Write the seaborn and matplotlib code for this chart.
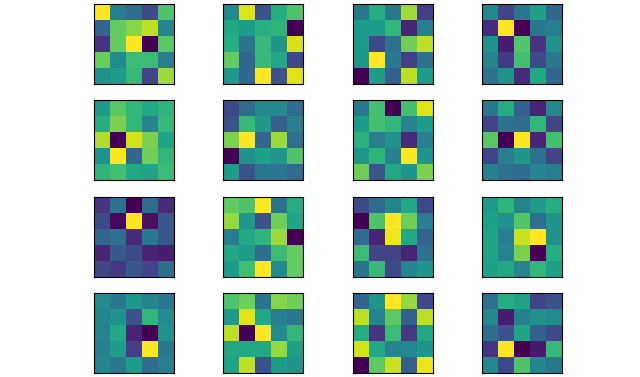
import numpy as np
import matplotlib
matplotlib.use("Agg")
import matplotlib.pyplot as plt
import seaborn as sns

p00 = [[1.0, 0.42, 0.35, 0.22, 0.72],
       [0.32, 0.76, 0.82, 0.9, 0.45],
       [0.15, 0.76, 1.0, 0.0, 0.74],
       [0.77, 0.48, 0.68, 0.68, 0.42],
       [0.5, 0.55, 0.67, 0.2, 0.85]]
p01 = [[0.47, 0.95, 0.25, 0.62, 0.72],
       [0.6, 0.55, 0.63, 0.65, 0.0],
       [0.62, 0.38, 0.67, 0.52, 0.94],
       [0.76, 0.33, 0.67, 0.6, 0.22],
       [0.53, 0.33, 1.0, 0.25, 0.95]]
p02 = [[0.4, 0.62, 0.4, 0.86, 0.18],
       [0.55, 0.55, 0.66, 0.1, 0.42],
       [0.55, 0.22, 0.37, 0.78, 0.9],
       [0.53, 1.0, 0.4, 0.18, 0.37],
       [0.0, 0.55, 0.3, 0.9, 0.55]]
p03 = [[0.47, 0.2, 0.4, 0.57, 0.33],
       [0.12, 1.0, 0.0, 0.4, 0.42],
       [0.5, 0.08, 0.73, 0.15, 0.5],
       [0.45, 0.17, 0.7, 0.22, 0.4],
       [0.38, 0.5, 0.12, 0.6, 0.33]]
p10 = [[0.55, 0.74, 0.66, 0.6, 0.65],
       [0.62, 0.8, 0.66, 0.45, 0.67],
       [0.88, 0.0, 0.93, 0.8, 0.58],
       [0.5, 1.0, 0.33, 0.78, 0.66],
       [0.65, 0.7, 0.6, 0.58, 0.68]]
p11 = [[0.22, 0.35, 0.47, 0.47, 0.35],
       [0.25, 0.67, 0.53, 0.3, 0.42],
       [0.8, 1.0, 0.33, 0.85, 0.37],
       [0.0, 0.5, 0.57, 0.53, 0.72],
       [0.55, 0.25, 0.4, 0.4, 0.35]]
p12 = [[0.4, 0.7, 0.0, 0.7, 0.95],
       [0.55, 0.7, 0.66, 0.45, 0.55],
       [0.64, 0.42, 0.5, 0.12, 0.43],
       [0.53, 0.65, 0.43, 1.0, 0.52],
       [0.78, 0.27, 0.6, 0.52, 0.8]]
p13 = [[0.4, 0.62, 0.3, 0.1, 0.47],
       [0.2, 0.38, 0.35, 0.66, 0.2],
       [0.74, 0.0, 1.0, 0.1, 0.7],
       [0.2, 0.42, 0.52, 0.37, 0.2],
       [0.43, 0.37, 0.35, 0.45, 0.42]]
p20 = [[0.15, 0.38, 0.0, 0.35, 0.12],
       [0.22, 0.02, 1.0, 0.04, 0.27],
       [0.33, 0.37, 0.12, 0.4, 0.27],
       [0.1, 0.28, 0.22, 0.1, 0.08],
       [0.2, 0.17, 0.27, 0.2, 0.36]]
p21 = [[0.76, 0.72, 1.0, 0.38, 0.62],
       [0.84, 0.53, 0.25, 0.78, 0.58],
       [0.42, 0.6, 0.65, 0.85, 0.0],
       [0.6, 0.55, 0.35, 0.68, 0.76],
       [0.55, 0.7, 1.0, 0.48, 0.76]]
p22 = [[0.22, 0.35, 0.45, 0.6, 0.22],
       [0.0, 0.72, 1.0, 0.78, 0.42],
       [0.35, 0.1, 0.98, 0.6, 0.32],
       [0.68, 0.2, 0.2, 0.1, 0.37],
       [0.38, 0.67, 0.22, 0.45, 0.52]]
p23 = [[0.55, 0.65, 0.45, 0.55, 0.62],
       [0.57, 0.5, 0.73, 0.37, 0.52],
       [0.58, 0.42, 0.92, 1.0, 0.5],
       [0.58, 0.45, 0.8, 0.0, 0.62],
       [0.57, 0.6, 0.45, 0.66, 0.57]]
p30 = [[0.48, 0.4, 0.53, 0.45, 0.4],
       [0.45, 0.5, 0.25, 0.66, 0.48],
       [0.44, 0.6, 0.1, 0.0, 0.5],
       [0.43, 0.55, 0.18, 1.0, 0.4],
       [0.45, 0.4, 0.55, 0.35, 0.42]]
p31 = [[0.72, 0.78, 0.38, 0.82, 0.78],
       [0.53, 0.95, 0.6, 0.42, 0.4],
       [0.9, 0.0, 1.0, 0.48, 0.66],
       [0.6, 0.6, 0.6, 0.84, 0.57],
       [0.58, 0.9, 0.25, 0.55, 0.52]]
p32 = [[0.33, 0.52, 1.0, 0.84, 0.22],
       [0.9, 0.45, 0.75, 0.3, 0.9],
       [0.62, 0.15, 0.68, 0.17, 0.6],
       [0.93, 0.6, 0.45, 0.47, 0.52],
       [0.0, 0.75, 0.92, 0.3, 0.97]]
p33 = [[0.37, 0.62, 0.58, 0.2, 0.25],
       [0.47, 0.08, 0.43, 0.5, 0.48],
       [0.35, 0.25, 0.58, 0.3, 0.22],
       [0.15, 1.0, 0.0, 0.07, 0.67],
       [0.47, 0.22, 0.72, 0.45, 0.4]]

panels = [[p00, p01, p02, p03],
          [p10, p11, p12, p13],
          [p20, p21, p22, p23],
          [p30, p31, p32, p33]]

fig, axes = plt.subplots(4, 4, figsize=(6.4, 3.77), dpi=100)
fig.subplots_adjust(left=0.125, right=0.9, top=0.99, bottom=0.01, wspace=0.2, hspace=0.2)
for i in range(4):
    for j in range(4):
        ax = axes[i][j]
        sns.heatmap(np.array(panels[i][j]), ax=ax, cmap="viridis", cbar=False,
                    square=True, xticklabels=False, yticklabels=False)
        for s in ax.spines.values():
            s.set_visible(True)
            s.set_color("black")
            s.set_linewidth(0.8)
        ax.set_xticks([])
        ax.set_yticks([])
fig.savefig("out.png", dpi=100)
